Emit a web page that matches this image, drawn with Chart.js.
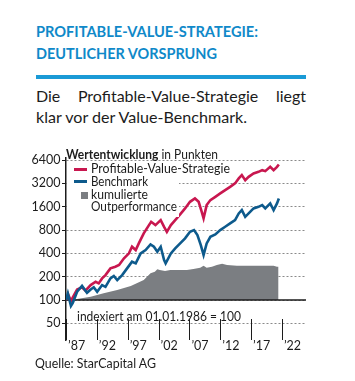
<!DOCTYPE html>
<html><head><meta charset="utf-8">
<script src="https://cdn.jsdelivr.net/npm/chart.js@4/dist/chart.umd.min.js"></script>
<style>
html,body{margin:0;padding:0;background:#fff;width:355px;height:381px;overflow:hidden;font-family:Lato,"Open Sans",sans-serif;color:#1c1c1c}
.abs{position:absolute;white-space:nowrap}
.fit{display:inline-block;transform-origin:0 0;white-space:nowrap}
#t1,#t2{font-weight:700;color:#0f89c9;font-size:14.3px;line-height:1}
#rule{position:absolute;left:36px;top:75px;width:270px;height:3.5px;background:#1a9ad6}
#s1{position:absolute;left:36px;top:86px;width:270px;font-size:16px;line-height:20px;text-align:justify;text-align-last:justify;white-space:nowrap}
#s2{font-size:16px;line-height:20px}
#hdr{font-size:12.5px;line-height:1}
#idx{font-size:13px;line-height:1}
#src{font-size:12.5px;line-height:1}
#legend{position:absolute;left:67px;top:163px;width:112px;height:54px;background:#fff;font-size:12.5px}
.li{position:absolute;left:24px;line-height:1;white-space:nowrap}
.sw{position:absolute;left:7px;width:13px;height:3px}
#cv{position:absolute;left:0;top:140px}
</style></head>
<body>
<div class="abs" style="left:36px;top:20.6px"><span id="t1" class="fit" data-w="222">PROFITABLE-VALUE-STRATEGIE:</span></div>
<div class="abs" style="left:36px;top:43.3px"><span id="t2" class="fit" data-w="181">DEUTLICHER VORSPRUNG</span></div>
<div id="rule"></div>
<div id="s1">Die Profitable-Value-Strategie liegt</div>
<div class="abs" style="left:36px;top:107px"><span id="s2" class="fit" data-w="211">klar vor der Value-Benchmark.</span></div>
<div id="chartwrap"><canvas id="cv" width="355" height="220"></canvas></div>
<div class="abs" style="left:66px;top:143px"><span id="hdr" class="fit" data-w="152"><b>Wertentwicklung</b> in Punkten</span></div>
<div id="legend">
  <div class="sw" style="top:5px;background:#c8174f"></div><div class="li" style="top:0px"><span class="fit" data-w="139">Profitable-Value-Strategie</span></div>
  <div class="sw" style="top:17.2px;background:#0d5a8c"></div><div class="li" style="top:12.5px"><span class="fit" data-w="57">Benchmark</span></div>
  <div class="sw" style="left:13.7px;width:7px;height:7px;top:28.7px;background:#7b7e82"></div><div class="li" style="top:25.5px"><span class="fit" data-w="57">kumulierte</span></div>
  <div class="li" style="top:38px"><span class="fit" data-w="86">Outperformance</span></div>
</div>
<div class="abs" style="left:77px;top:304.5px"><span id="idx" class="fit" data-w="164">indexiert am 01.01.1986 = 100</span></div>
<div class="abs" style="left:35px;top:352px"><span id="src" class="fit" data-w="121">Quelle: StarCapital AG</span></div>
<script>
// ---- data ----
const strategyYears = [1987.0,1987.35,1987.8,1988.1,1988.8,1989.6,1990.15,1991.0,1991.8,1992.3,1992.85,1993.4,1994.2,1995.0,1995.6,1996.4,1997.2,1997.7,1998.3,1998.8,1999.6,2000.45,2000.8,2001.5,2002.35,2002.9,2003.35,2004.0,2004.7,2005.5,2006.3,2007.1,2007.9,2008.5,2009.0,2009.3,2009.8,2010.4,2011.2,2012.0,2012.8,2013.6,2014.4,2015.0,2015.5,2016.05,2016.6,2017.4,2018.2,2018.8,2019.3,2020.1,2020.65,2021.2,2021.5];
const strategyValues = [100,118,97,108,137,146,132,156,172,164,190,210,256,269,283,345,400,487,441,538,724,927,1022,927,1075,881,759,927,1075,1273,1521,1850,2046,1850,1375,1131,1678,1947,2146,2375,2620,2888,3196,3707,4087,3524,3886,4299,4509,4741,4605,5232,4741,5232,5618];
const benchmarkYears = [1987.0,1987.3,1987.8,1988.1,1988.8,1989.6,1990.4,1991.0,1991.5,1992.05,1992.85,1993.4,1994.2,1994.75,1995.3,1996.1,1996.9,1997.7,1998.3,1999.1,1999.9,2000.7,2001.25,2001.8,2002.35,2002.9,2003.15,2004.0,2004.7,2005.5,2006.3,2007.1,2007.75,2008.3,2008.85,2009.3,2009.8,2010.4,2011.2,2012.0,2012.8,2013.6,2014.4,2015.0,2015.5,2016.05,2016.6,2017.4,2018.2,2018.8,2019.3,2020.1,2020.65,2021.2,2021.5];
const benchmarkValues = [100,122,84,92,128,152,124,137,146,128,156,148,190,204,181,210,256,312,297,400,441,522,487,420,487,328,297,400,464,538,624,759,799,689,512,380,538,655,703,799,881,975,1075,1311,1446,1185,1311,1521,1595,1678,1521,1764,1446,1764,2046];
const outperfYears = [1987.0,1988.0,1988.8,1991.0,1993.1,1995.3,1997.5,1999.6,2000.7,2001.4,2001.8,2002.2,2003.05,2003.9,2005.5,2006.6,2007.65,2008.75,2009.3,2009.8,2010.65,2011.45,2012.3,2013.1,2014.7,2016.9,2019.0,2020.65,2021.2,2021.45];
const outperfValues = [100,100,103,110,122,135,152,181,221,232,250,244,237,244,244,244,251,261,277,261,269,283,294,283,277,277,277,277,269,269];
const yTickValues = [50,100,200,400,800,1600,3200,6400];
const xTickYears = [1987,1992,1997,2002,2007,2012,2017,2022];
const xTickLabels = ["’87","’92","’97","’02","’07","’12","’17","’22"];

const pts = (xs, ys) => xs.map((x, i) => ({x, y: ys[i]}));

// fit text widths
document.querySelectorAll('.fit').forEach(el => {
  const w = el.getBoundingClientRect().width;
  const t = +el.dataset.w;
  if (w && t) el.style.transform = 'scaleX(' + (t / w) + ')';
});

Chart.defaults.font.family = 'Lato, "Open Sans", sans-serif';
Chart.defaults.color = '#1c1c1c';

const decor = {
  id: 'decor',
  afterDatasetDraw(chart, args) {
    if (args.index !== 2) return;
    const {ctx, chartArea} = chart;
    const y = chart.scales.y;
    const py = y.getPixelForValue(100);
    ctx.save();
    ctx.strokeStyle = '#1c1c1c';
    ctx.lineWidth = 1.5;
    ctx.beginPath();
    ctx.moveTo(chartArea.left, py);
    ctx.lineTo(chartArea.right, py);
    ctx.stroke();
    ctx.restore();
  },
  afterDraw(chart) {
    const {ctx, chartArea} = chart;
    const x = chart.scales.x;
    ctx.save();
    ctx.strokeStyle = '#1c1c1c';
    ctx.lineWidth = 1;
    xTickYears.forEach(v => {
      const px = Math.round(x.getPixelForValue(v)) + 0.5;
      ctx.beginPath();
      ctx.moveTo(px, chartArea.bottom - 21);
      ctx.lineTo(px, chartArea.bottom);
      ctx.stroke();
    });
    ctx.restore();
  }
};

new Chart(document.getElementById('cv'), {
  type: 'line',
  data: {
    datasets: [
      {label: 'Benchmark', data: pts(benchmarkYears, benchmarkValues), borderColor: '#0d5a8c', borderWidth: 2.6, pointRadius: 0, fill: false, tension: 0},
      {label: 'Profitable-Value-Strategie', data: pts(strategyYears, strategyValues), borderColor: '#c8174f', borderWidth: 2.6, pointRadius: 0, fill: false, tension: 0},
      {label: 'kumulierte Outperformance', data: pts(outperfYears, outperfValues), borderColor: 'rgba(0,0,0,0)', borderWidth: 0, backgroundColor: '#7b7e82', pointRadius: 0, fill: {value: 100}, tension: 0}
    ]
  },
  options: {
    responsive: false,
    animation: false,
    events: [],
    layout: {padding: {top: 18, right: 49, bottom: 10, left: 0}},
    plugins: {legend: {display: false}, tooltip: {enabled: false}},
    scales: {
      x: {
        type: 'linear', min: 1987, max: 2025.9,
        afterBuildTicks: s => { s.ticks = xTickYears.map(v => ({value: v})); },
        afterFit: s => { s.height = 10; },
        grid: {display: false},
        border: {display: false},
        ticks: {
          autoSkip: false, maxRotation: 0, align: 'start', padding: -9.2, labelOffset: 2,
          font: {size: 12.5}, color: '#1c1c1c',
          callback: (v) => { const i = xTickYears.indexOf(v); return i >= 0 ? xTickLabels[i] : ''; }
        }
      },
      y: {
        type: 'logarithmic', min: 30.5, max: 6800,
        afterBuildTicks: s => { s.ticks = yTickValues.map(v => ({value: v})); },
        afterFit: s => { s.width = 66; },
        grid: {color: '#8a8a8a', lineWidth: 1, tickLength: 4, tickColor: '#1c1c1c', tickBorderDash: [], tickWidth: 1},
        border: {display: true, color: '#1c1c1c', width: 1.5, dash: [2, 2]},
        ticks: {padding: 1.5, font: {size: 12.5}, color: '#1c1c1c', callback: v => String(v)}
      }
    }
  },
  plugins: [decor]
});
</script>
</body></html>
